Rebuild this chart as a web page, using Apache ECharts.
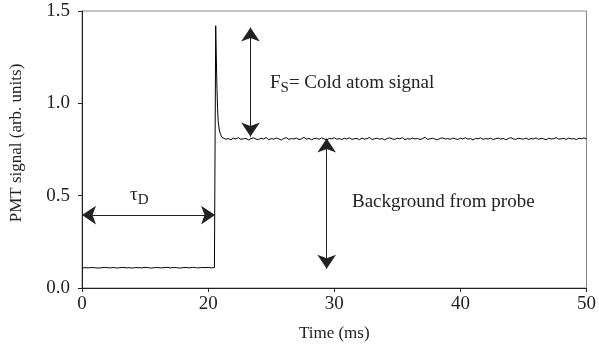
<!DOCTYPE html>
<html>
<head>
<meta charset="utf-8">
<script src="https://cdn.jsdelivr.net/npm/echarts@6/dist/echarts.min.js"></script>
<style>
  html, body { margin: 0; padding: 0; background: #fff; }
  #chart { width: 599px; height: 352px; }
</style>
</head>
<body>
<div id="chart"></div>
<script>
// x axis: the first tick (value 10) is labelled "0" in the original figure
var xTickValues = [10, 20, 30, 40, 50];
var xTickLabels = ['0', '20', '30', '40', '50'];
var yTickLabels = ['0.0', '0.5', '1.0', '1.5'];

// baseline before the pulse, sampled every 0.25 ms from 10
var baseStart = 10, baseStep = 0.25;
var baseValues = [0.108,0.110,0.109,0.111,0.110,0.108,0.109,0.112,0.110,0.109,
  0.111,0.108,0.110,0.112,0.109,0.110,0.108,0.111,0.110,0.109,
  0.112,0.110,0.108,0.110,0.111,0.109,0.110,0.112,0.109,0.111,
  0.110,0.108,0.110,0.111,0.109,0.112,0.110,0.109,0.111,0.110,
  0.112,0.109,0.111];

// rising edge and decay of the peak  [time, signal]
var peakPoints = [[20.58, 0.112], [20.6, 1.42], [20.65, 1.25], [20.7, 1.08],
  [20.75, 0.97], [20.8, 0.9], [20.9, 0.85], [21.0, 0.83], [21.1, 0.815]];

// plateau after the pulse, sampled every 0.2 ms from 21.2
var levelStart = 21.2, levelStep = 0.2;
var levelValues = [0.812,0.806,0.809,0.803,0.811,0.807,0.814,0.805,0.808,0.810,
  0.802,0.809,0.813,0.806,0.804,0.811,0.807,0.815,0.803,0.809,
  0.806,0.812,0.808,0.801,0.810,0.814,0.805,0.809,0.807,0.812,
  0.804,0.808,0.816,0.806,0.810,0.803,0.809,0.811,0.805,0.813,
  0.807,0.802,0.810,0.808,0.814,0.806,0.809,0.804,0.811,0.807,
  0.813,0.805,0.808,0.810,0.803,0.812,0.806,0.809,0.815,0.804,
  0.808,0.811,0.806,0.809,0.802,0.810,0.813,0.807,0.805,0.811,
  0.808,0.814,0.803,0.809,0.806,0.812,0.807,0.810,0.804,0.809,
  0.816,0.805,0.808,0.811,0.806,0.803,0.810,0.813,0.807,0.809,
  0.805,0.812,0.808,0.804,0.811,0.807,0.814,0.806,0.809,0.802,
  0.810,0.808,0.813,0.805,0.809,0.807,0.811,0.804,0.808,0.812,
  0.806,0.810,0.803,0.809,0.814,0.807,0.805,0.811,0.808,0.806,
  0.812,0.804,0.809,0.807,0.813,0.805,0.810,0.808,0.803,0.811,
  0.807,0.809,0.814,0.806,0.808,0.810,0.805,0.812,0.807,0.809,
  0.804,0.811,0.808,0.813,0.806];

// annotation arrows, tip to tip  [x1, y1, x2, y2]
var arrowFs = [23.36, 1.41, 23.36, 0.82];
var arrowBg = [29.4, 0.81, 29.4, 0.104];
var arrowTau = [10.0, 0.395, 20.55, 0.395];

var trace = [];
for (var i = 0; i < baseValues.length; i++) {
  trace.push([baseStart + i * baseStep, baseValues[i]]);
}
peakPoints.forEach(function (p) { trace.push(p); });
for (var j = 0; j < levelValues.length; j++) {
  trace.push([+(levelStart + j * levelStep).toFixed(2), levelValues[j]]);
}

function arrowPair(a) {
  return [{ coord: [a[0], a[1]] }, { coord: [a[2], a[3]] }];
}

var serif = 'Liberation Serif, Times New Roman, serif';

var chart = echarts.init(document.getElementById('chart'));

var option = {
  animation: false,
  grid: {
    left: 82, right: 8, top: 11, bottom: 64,
    show: true, borderColor: '#888', borderWidth: 1
  },
  xAxis: {
    type: 'value',
    min: 10, max: 50, interval: 10,
    name: 'Time (ms)',
    nameLocation: 'middle',
    nameGap: 37,
    nameTextStyle: { fontFamily: serif, fontSize: 17, color: '#222' },
    axisLine: { lineStyle: { color: '#222', width: 1 } },
    axisTick: { inside: false, length: 4, lineStyle: { color: '#222' } },
    axisLabel: {
      fontFamily: serif, fontSize: 19, color: '#222', margin: 7,
      formatter: function (v) {
        var k = xTickValues.indexOf(v);
        return k >= 0 ? xTickLabels[k] : '';
      }
    },
    splitLine: { show: false }
  },
  yAxis: {
    type: 'value',
    min: 0, max: 1.5, interval: 0.5,
    axisLine: { show: true, lineStyle: { color: '#222', width: 1 } },
    axisTick: { show: true, inside: false, length: 4, lineStyle: { color: '#222' } },
    axisLabel: {
      fontFamily: serif, fontSize: 19, color: '#222', margin: 12,
      formatter: function (v) {
        return yTickLabels[Math.round(v / 0.5)];
      }
    },
    splitLine: { show: false }
  },
  series: [{
    type: 'line',
    data: trace,
    showSymbol: false,
    lineStyle: { color: '#000', width: 1 },
    markLine: {
      silent: true,
      symbol: ['arrow', 'arrow'],
      symbolSize: 14,
      label: { show: false },
      lineStyle: { color: '#222', width: 1, type: 'solid' },
      data: [arrowPair(arrowFs), arrowPair(arrowBg), arrowPair(arrowTau)]
    }
  }],
  graphic: [
    // y axis title, a little above the middle of the axis in the original
    {
      type: 'text', x: 17, y: 143, rotation: Math.PI / 2,
      style: {
        text: 'PMT signal (arb. units)', fill: '#222',
        font: '17px ' + serif, align: 'center', verticalAlign: 'middle'
      }
    },
    {
      type: 'text', left: 130, top: 186,
      style: {
        text: 'τ{s|D}', fill: '#222',
        font: '19px ' + serif,
        rich: { s: { fontFamily: serif, fontSize: 15, fill: '#222', padding: [9, 0, 0, 0] } }
      }
    },
    {
      type: 'text', left: 270, top: 74,
      style: {
        text: 'F{s|S}= Cold atom signal', fill: '#222',
        font: '19px ' + serif,
        rich: { s: { fontFamily: serif, fontSize: 15, fill: '#222', padding: [9, 0, 0, 0] } }
      }
    },
    {
      type: 'text', left: 352, top: 193,
      style: { text: 'Background from probe', fill: '#222', font: '19px ' + serif }
    }
  ]
};

chart.setOption(option);
</script>
</body>
</html>
